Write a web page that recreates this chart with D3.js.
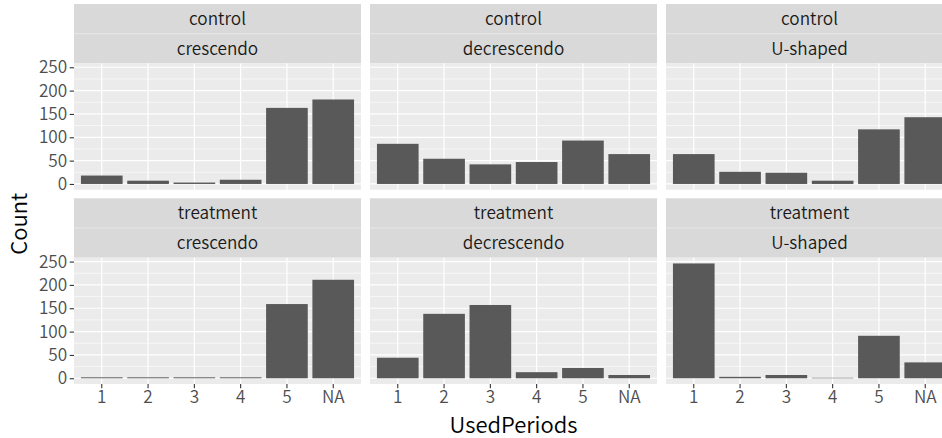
<!DOCTYPE html>
<html>
<head>
<meta charset="utf-8">
<script src="https://cdn.jsdelivr.net/npm/d3@7"></script>
<style>
  html, body { margin: 0; padding: 0; background: #fff; overflow: hidden; }
  svg { display: block; }
  text { font-family: "Noto Sans CJK JP", "Noto Sans", sans-serif; font-weight: 350; }
</style>
</head>
<body>
<svg id="chart" width="942" height="438"></svg>
<script>
// Categories on the x axis
const periods = ["1", "2", "3", "4", "5", "NA"];
// Facet variables
const groups = ["control", "treatment"];
const shapes = ["crescendo", "decrescendo", "U-shaped"];
// Counts per facet (same order as periods)
const controlCrescendo     = [18, 7, 3, 9, 163, 181];
const controlDecrescendo   = [86, 54, 42, 47, 93, 64];
const controlUShaped       = [64, 26, 24, 7, 117, 143];
const treatmentCrescendo   = [2, 2, 2, 2, 159, 211];
const treatmentDecrescendo = [44, 138, 157, 13, 22, 7];
const treatmentUShaped     = [246, 3, 7, 1, 91, 34];
// Axis breaks
const yBreaks = [0, 50, 100, 150, 200, 250];
const yMinor = [25, 75, 125, 175, 225];

const facetValues = {
  control:   [controlCrescendo, controlDecrescendo, controlUShaped],
  treatment: [treatmentCrescendo, treatmentDecrescendo, treatmentUShaped]
};

// Layout
const marginLeft = 74, marginTop = 4;
const panelW = 287, panelH = 126.3;
const gapX = 9, gapY = 8.6;
const stripH = 29.7;
const rowH = stripH * 2 + panelH;
const tickFont = 17.2, stripFont = 17.2, titleFont = 22;

const svg = d3.select("#chart");

const x = d3.scaleBand().domain(periods).range([0, panelW])
  .paddingInner(0.1).paddingOuter(0.15);

const allVals = groups.flatMap(g => facetValues[g].flat());
const yMax = d3.max(allVals);
const y = d3.scaleLinear().domain([-0.05 * yMax, yMax * 1.05]).range([panelH, 0]);

groups.forEach((g, r) => {
  shapes.forEach((s, c) => {
    const px = marginLeft + c * (panelW + gapX);
    const py = marginTop + r * (rowH + gapY);
    const gFacet = svg.append("g").attr("transform", `translate(${px},${py})`);

    // Strips
    [g, s].forEach((lab, k) => {
      gFacet.append("rect")
        .attr("x", 0).attr("y", k * stripH)
        .attr("width", panelW).attr("height", stripH)
        .attr("fill", "#D9D9D9");
      gFacet.append("text")
        .attr("x", panelW / 2).attr("y", k * stripH + stripH / 2)
        .attr("dy", "0.35em")
        .attr("text-anchor", "middle")
        .attr("font-size", stripFont)
        .attr("fill", "#1A1A1A")
        .text(lab);
    });
    gFacet.append("line")
      .attr("x1", 0).attr("x2", panelW)
      .attr("y1", stripH).attr("y2", stripH)
      .attr("stroke", "#E6E6E6").attr("stroke-width", 1);

    const panel = gFacet.append("g").attr("transform", `translate(0,${stripH * 2})`);
    panel.append("rect")
      .attr("width", panelW).attr("height", panelH)
      .attr("fill", "#EBEBEB");

    // Grid lines
    panel.selectAll(".minor").data(yMinor).join("line")
      .attr("x1", 0).attr("x2", panelW)
      .attr("y1", d => y(d)).attr("y2", d => y(d))
      .attr("stroke", "#fff").attr("stroke-width", 0.6);
    panel.selectAll(".majorY").data(yBreaks).join("line")
      .attr("x1", 0).attr("x2", panelW)
      .attr("y1", d => y(d)).attr("y2", d => y(d))
      .attr("stroke", "#fff").attr("stroke-width", 1.2);
    panel.selectAll(".majorX").data(periods).join("line")
      .attr("x1", d => x(d) + x.bandwidth() / 2).attr("x2", d => x(d) + x.bandwidth() / 2)
      .attr("y1", 0).attr("y2", panelH)
      .attr("stroke", "#fff").attr("stroke-width", 1.2);

    // Bars
    const vals = facetValues[g][c];
    panel.selectAll(".bar").data(periods.map((p, i) => ({ p, v: vals[i] }))).join("rect")
      .attr("x", d => x(d.p))
      .attr("width", x.bandwidth())
      .attr("y", d => y(d.v))
      .attr("height", d => y(0) - y(d.v))
      .attr("fill", "#595959");

    // Y axis on first column
    if (c === 0) {
      const ya = d3.axisLeft(y).tickValues(yBreaks).tickSize(4.3).tickPadding(2.5);
      const ax = panel.append("g").call(ya);
      ax.select(".domain").remove();
      ax.selectAll(".tick line").attr("stroke", "#333").attr("stroke-width", 1.1);
      ax.selectAll(".tick text")
        .attr("font-size", tickFont).attr("fill", "#4D4D4D")
        .attr("font-family", '"Noto Sans CJK JP", "Noto Sans", sans-serif');
    }
    // X axis on bottom row
    if (r === groups.length - 1) {
      const xa = d3.axisBottom(x).tickSize(4.3).tickPadding(2);
      const ax = panel.append("g").attr("transform", `translate(0,${panelH})`).call(xa);
      ax.select(".domain").remove();
      ax.selectAll(".tick line").attr("stroke", "#333").attr("stroke-width", 1.1);
      ax.selectAll(".tick text")
        .attr("font-size", tickFont).attr("fill", "#4D4D4D")
        .attr("font-family", '"Noto Sans CJK JP", "Noto Sans", sans-serif');
    }
  });
});

// Axis titles
const panelsRight = marginLeft + 3 * panelW + 2 * gapX;
const panelsTop = marginTop + stripH * 2;
const panelsBottom = marginTop + 2 * rowH + gapY;
svg.append("text")
  .attr("x", (marginLeft + panelsRight) / 2).attr("y", 432.5)
  .attr("text-anchor", "middle")
  .attr("font-size", titleFont).attr("fill", "#000")
  .text("UsedPeriods");
svg.append("text")
  .attr("transform", `translate(27,${(panelsTop + panelsBottom) / 2}) rotate(-90)`)
  .attr("text-anchor", "middle")
  .attr("font-size", titleFont).attr("fill", "#000")
  .text("Count");
</script>
</body>
</html>
